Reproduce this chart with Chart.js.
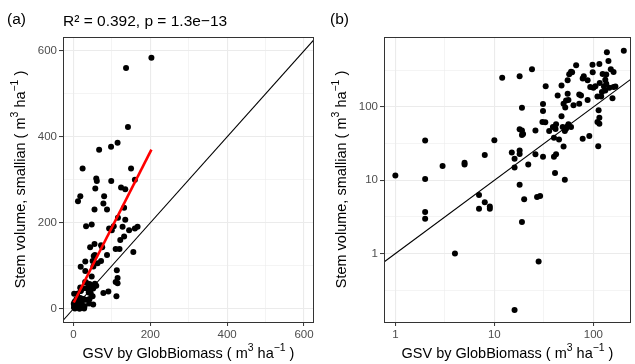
<!DOCTYPE html>
<html lang="en">
<head>
<meta charset="UTF-8">
<script src="https://cdn.jsdelivr.net/npm/chart.js"></script>
<title>GSV vs stem volume</title>
<style>
    body { margin: 0; background: #fff; }
    .quadro { position: relative; width: 635px; height: 364px; }
    canvas { position: absolute; top: 0; }
</style>
</head>
<body>
<div class="quadro">
    <canvas id="grafA" width="318" height="364" style="left:0px"></canvas>
    <canvas id="grafB" width="317" height="364" style="left:318px"></canvas>
</div>
<script>
// GSV by GlobBiomass (x) and smallian stem volume (y), m3/ha
var gsvGlob = [1,2,2,2,2,3,4,5,5,7, 7,8,8,9,9,10,12,15,16,16, 16,18,18,18,18,18,19,19,19.5,19,
    19,20,22,24,26,26,27,28,29,31, 31,31,33,30.6,32.7,35.8,40,42,41,51.5, 40,45,42,39,41.5,43.6,47.7,47.7,50,53,
    50,52,56,55,55,55,53,51.5,49,59.5, 56,59.5,57,61,63,72,72,75,67,78, 80,78,91,87.5,87.5,93,98,98.5,100,105,
    110,113,115,110,115,112,115,116,120,122, 124,128,132,132,135,135,137,142,145,150, 156,160,160,167,203]
var stemSmallian = [11.6,34.8,10.4,3.7,3.0,15.7,1.0,17.4,16.4,6.3, 4.1,22.2,5.0,4.4,4.1,35.3,250,23.9,19.6,14.9,
    0.17,262,49.6,25.4,22.9,8.7,98,47.6,42.9,41.5, 2.7,5.5,16.4,326,47.6,22.7,5.9,0.78,6.1,20.9,
    110,88,192,62.5,62,47,20.9,22.7,12.6,10.2, 38,36,58,53.5,50,143,196,75,29,123,
    111,98.5,125,151,231,54.7,50.6,47,53.5,53.5, 58.3,303,280,297,106,111,148,143,370,245,
    262,36.8,40.2,231,125,187,377,297,183,192, 139,90,71.5,62.5,59.3,29.2,386,212,139,160,
    282,191,235,168,207,278,560,423,183,326, 132,300,187,191,584]

// linear fit shown in panel (a)
var fitIntercept = 13
var fitSlope = 1.76
var fitLabel = 'R\u00B2 = 0.392, p = 1.3e\u221213'

// ticks
var linMajor = [0, 200, 400, 600]
var linMinor = [100, 300, 500]
var logMajor = [1, 10, 100]
var logMinor = [0.3162, 3.162, 31.62, 316.2]

// axis ranges
var linX = [-27, 626]
var linY = [-30.6, 632]
var logX = [0.768, 240]
var logY = [0.1167, 901]

var fonte = "'Liberation Sans', Arial, sans-serif"
var tituloX = [{ t: 'GSV by GlobBiomass ( m' }, { t: '3', sup: true }, { t: ' ha' }, { t: '\u22121', sup: true }, { t: ' )' }]
var tituloY = [{ t: 'Stem volume, smallian ( m' }, { t: '3', sup: true }, { t: ' ha' }, { t: '\u22121', sup: true }, { t: ' )' }]

var pontos = gsvGlob.map(function (x, i) { return { x: x, y: stemSmallian[i] } })
var pontosLog = pontos.filter(function (p) { return p.x > 0 && p.y > 0 })
var xMinDado = Math.min.apply(null, gsvGlob)
var xMaxDado = Math.max.apply(null, gsvGlob)
var linhaFit = [xMinDado, xMaxDado].map(function (x) { return { x: x, y: fitIntercept + fitSlope * x } })

function eixo(tipo, faixa, major, minor, vertical, tamanho) {
    var todos = major.concat(minor).filter(function (v) { return v >= faixa[0] && v <= faixa[1] })
    var ehMajor = function (c) { return c.tick && major.includes(c.tick.value) }
    return {
        type: tipo,
        min: faixa[0],
        max: faixa[1],
        bounds: 'data',
        afterBuildTicks: function (s) { s.ticks = todos.map(function (v) { return { value: v } }) },
        afterFit: function (s) { if (vertical) s.width = tamanho; else s.height = tamanho },
        border: { display: false },
        grid: {
            color: '#EBEBEB',
            lineWidth: function (c) { return ehMajor(c) ? 1.1 : 0.55 },
            tickLength: 4,
            tickWidth: 1,
            tickColor: function (c) { return ehMajor(c) ? '#333333' : 'rgba(0,0,0,0)' }
        },
        ticks: {
            autoSkip: false,
            maxRotation: 0,
            padding: 2,
            color: '#4D4D4D',
            font: { family: fonte, size: 11.5 },
            callback: function (v) { return major.includes(v) ? String(v) : '' }
        }
    }
}

function textoRico(ctx, partes, tam) {
    var largura = 0
    partes.forEach(function (p) {
        ctx.font = (p.sup ? tam * 0.72 : tam) + 'px ' + fonte
        largura += ctx.measureText(p.t).width
    })
    var x = -largura / 2
    partes.forEach(function (p) {
        ctx.font = (p.sup ? tam * 0.72 : tam) + 'px ' + fonte
        ctx.fillText(p.t, x, p.sup ? -tam * 0.45 : 0)
        x += ctx.measureText(p.t).width
    })
}

function decor(cfg) {
    return {
        id: 'decor',
        afterDraw: function (chart) {
            var ctx = chart.ctx
            var a = chart.chartArea
            ctx.save()
            ctx.strokeStyle = '#333333'
            ctx.lineWidth = 1
            ctx.strokeRect(Math.round(a.left) + 0.5, Math.round(a.top) + 0.5, Math.round(a.right - a.left) - 1, Math.round(a.bottom - a.top))
            ctx.fillStyle = '#000'
            ctx.textBaseline = 'alphabetic'
            ctx.textAlign = 'left'
            ctx.font = '15.5px ' + fonte
            ctx.fillText(cfg.tag, cfg.tagX, 23.5)
            if (cfg.sub) ctx.fillText(cfg.sub, a.left, 26)
            // x axis title
            ctx.save()
            ctx.translate((a.left + a.right) / 2, 358)
            textoRico(ctx, tituloX, 14.5)
            ctx.restore()
            // y axis title
            ctx.save()
            ctx.translate(cfg.yTitX, (a.top + a.bottom) / 2)
            ctx.rotate(-Math.PI / 2)
            textoRico(ctx, tituloY, 14.5)
            ctx.restore()
            ctx.restore()
        }
    }
}

function montar(id, dados, linhas, escX, escY, padR, cfg) {
    return new Chart(document.getElementById(id), {
        type: 'scatter',
        data: {
            datasets: linhas.concat([{
                data: dados,
                pointRadius: 3,
                pointBackgroundColor: '#000',
                pointBorderWidth: 0,
                order: 5
            }])
        },
        options: {
            responsive: false,
            animation: false,
            devicePixelRatio: 1,
            layout: { padding: { top: 37, right: padR, left: 0, bottom: 0 } },
            plugins: { legend: { display: false }, tooltip: { enabled: false }, title: { display: false } },
            scales: { x: escX, y: escY }
        },
        plugins: [decor(cfg)]
    })
}

// (a) linear
var linhaUmA = linX.map(function (v) { return { x: v, y: v } })
montar('grafA', pontos, [
    { data: linhaFit, showLine: true, pointRadius: 0, borderColor: '#FF0000', borderWidth: 2.6, order: 1 },
    { data: linhaUmA, showLine: true, pointRadius: 0, borderColor: '#000', borderWidth: 1.1, order: 2 }
], eixo('linear', linX, linMajor, linMinor, false, 42), eixo('linear', linY, linMajor, linMinor, true, 63), 2,
    { tag: '(a)', tagX: 7, sub: fitLabel, yTitX: 25 })

// (b) log-log
var linhaUmB = logX.map(function (v) { return { x: v, y: v } })
montar('grafB', pontosLog, [
    { data: linhaUmB, showLine: true, pointRadius: 0, borderColor: '#000', borderWidth: 1.1, order: 2 }
], eixo('logarithmic', logX, logMajor, logMinor, false, 42), eixo('logarithmic', logY, logMajor, logMinor, true, 66), 3,
    { tag: '(b)', tagX: 12, sub: null, yTitX: 28 })
</script>
</body>
</html>
